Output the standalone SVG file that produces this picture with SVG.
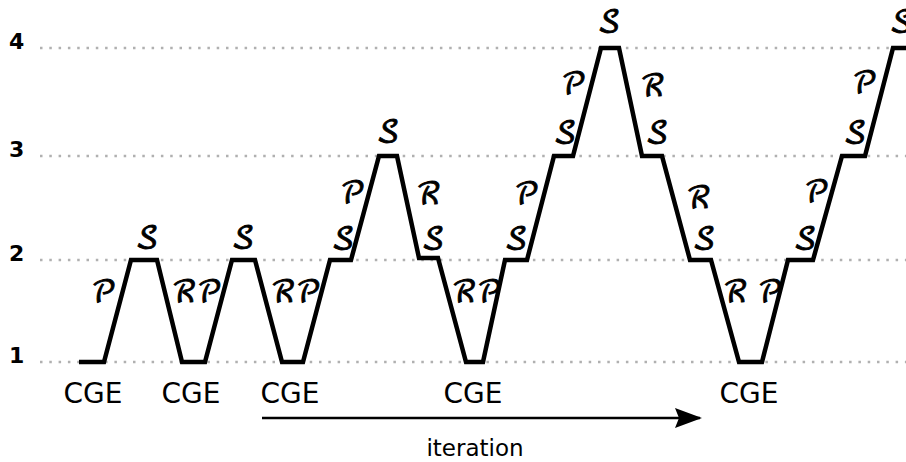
<svg xmlns="http://www.w3.org/2000/svg" width="906" height="462" viewBox="0 0 906 462">
<defs>
<style>
.grid{stroke:#b0b0b0;stroke-width:2.5;stroke-dasharray:2.5 6.8;fill:none}
.lvl{font-family:"DejaVu Sans",sans-serif;font-weight:bold;font-size:22px;fill:#000}
.cge{font-family:"DejaVu Sans",sans-serif;font-size:28px;fill:#000;text-anchor:middle}
.sc{font-family:"DejaVu Math TeX Gyre","Noto Sans Math","STIX Two Math",serif;font-size:30px;fill:#000;stroke:#000;stroke-width:0.9;text-anchor:middle}
.it{font-family:"DejaVu Sans",sans-serif;font-size:23px;fill:#000;text-anchor:middle}
</style>
<marker id="ah" viewBox="0 0 27 20" refX="25" refY="10" markerWidth="27" markerHeight="20" markerUnits="userSpaceOnUse" orient="auto">
<path d="M0,0 L27,10 L0,20 L4,10 Z" fill="#000"/>
</marker>
</defs>
<rect width="906" height="462" fill="#fff"/>
<g id="grid">
<line class="grid" x1="40" y1="48" x2="906" y2="48"/>
<line class="grid" x1="40" y1="156" x2="906" y2="156"/>
<line class="grid" x1="40" y1="260" x2="906" y2="260"/>
<line class="grid" x1="40" y1="362" x2="906" y2="362"/>
<text class="lvl" x="9" y="49">4</text>
<text class="lvl" x="9" y="157">3</text>
<text class="lvl" x="9" y="261">2</text>
<text class="lvl" x="9" y="363">1</text>
</g>
<g id="connectors">
<polyline fill="none" stroke="#000" stroke-width="4.5" stroke-linejoin="miter" points="79,362 104,362 131,260 157,260 182,362 205,362 232,260 255,260 282,362 303,362 330,260 351,260 379,156 397,156 419,258 438,258 466,362 483,362 505,260 527,260 554,156 573,156 601,48 619,48 642,156 662,156 690,260 711,260 739,362 762,362 788,260 813,260 842,156 865,156 893,48 906,48"/>
<line x1="262" y1="418" x2="700" y2="418" stroke="#000" stroke-width="2.5" marker-end="url(#ah)"/>
</g>
<g id="labels">
<text class="sc" x="104" y="302">𝒫</text>
<text class="sc" x="147" y="247">𝒮</text>
<text class="sc" x="197" y="302">ℛ𝒫</text>
<text class="sc" x="243" y="247">𝒮</text>
<text class="sc" x="296" y="302">ℛ𝒫</text>
<text class="sc" x="343" y="248">𝒮</text>
<text class="sc" x="353" y="203">𝒫</text>
<text class="sc" x="388" y="141">𝒮</text>
<text class="sc" x="429" y="204">ℛ</text>
<text class="sc" x="433" y="248">𝒮</text>
<text class="sc" x="477" y="302">ℛ𝒫</text>
<text class="sc" x="516" y="248">𝒮</text>
<text class="sc" x="527" y="204">𝒫</text>
<text class="sc" x="565" y="142">𝒮</text>
<text class="sc" x="574" y="94">𝒫</text>
<text class="sc" x="609" y="31">𝒮</text>
<text class="sc" x="653" y="96">ℛ</text>
<text class="sc" x="657" y="142">𝒮</text>
<text class="sc" x="699" y="208">ℛ</text>
<text class="sc" x="704" y="248">𝒮</text>
<text class="sc" x="753" y="302">ℛ 𝒫</text>
<text class="sc" x="805" y="248">𝒮</text>
<text class="sc" x="817" y="202">𝒫</text>
<text class="sc" x="855" y="142">𝒮</text>
<text class="sc" x="865" y="93">𝒫</text>
<text class="sc" x="901" y="31">𝒮</text>
</g>
<g id="cge">
<text class="cge" x="93" y="403">CGE</text>
<text class="cge" x="191" y="403">CGE</text>
<text class="cge" x="290" y="403">CGE</text>
<text class="cge" x="473" y="403">CGE</text>
<text class="cge" x="749" y="403">CGE</text>
<text class="it" x="475" y="456">iteration</text>
</g>
</svg>
